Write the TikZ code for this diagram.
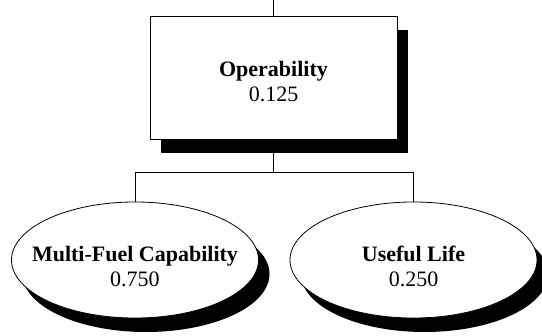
\documentclass[tikz,border=0pt]{standalone}
\usepackage{fontspec}
\setmainfont{Liberation Serif}
\usetikzlibrary{shapes.geometric,shadows}
\newcommand{\zlab}[1]{\makebox[0pt]{#1}}
\tikzset{
  conn/.style={draw=black, line width=0.8pt},
  hardshadow/.style={drop shadow={shadow xshift=11pt, shadow yshift=-14pt, fill=black, opacity=1, shadow scale=1}},
  goalbox/.style={rectangle, draw=black, line width=0.8pt, fill=white, hardshadow,
    minimum width=247pt, minimum height=123pt, inner sep=0pt, align=center,
    font=\fontsize{22}{25}\selectfont},
  critell/.style={ellipse, draw=black, line width=0.8pt, fill=white, hardshadow,
    minimum width=247pt, minimum height=116pt, inner sep=0pt, align=center,
    font=\fontsize{22}{25}\selectfont}
}
\begin{document}
\begin{tikzpicture}[x=1pt,y=-1pt]
\useasboundingbox (0,0) rectangle (542,336);
\coordinate (top) at (273.5,0);
\coordinate (junc) at (273.5,172);
\node[goalbox] (op) at (273.5,77.5) {\rule{0pt}{23pt}\textbf{Operability}\\0.125};
\node[critell] (mf) at (135,260) {\rule{0pt}{28pt}\zlab{\textbf{Multi-Fuel Capability}}\\\zlab{0.750}};
\node[critell] (ul) at (413.5,260) {\rule{0pt}{28pt}\zlab{\textbf{Useful Life}}\\\zlab{0.250}};
\draw[conn] (top) -- (op.north);
\draw[conn] (op.south) -- (junc);
\draw[conn] (junc) -| (mf.north);
\draw[conn] (junc) -| (ul.north);
\end{tikzpicture}
\end{document}
